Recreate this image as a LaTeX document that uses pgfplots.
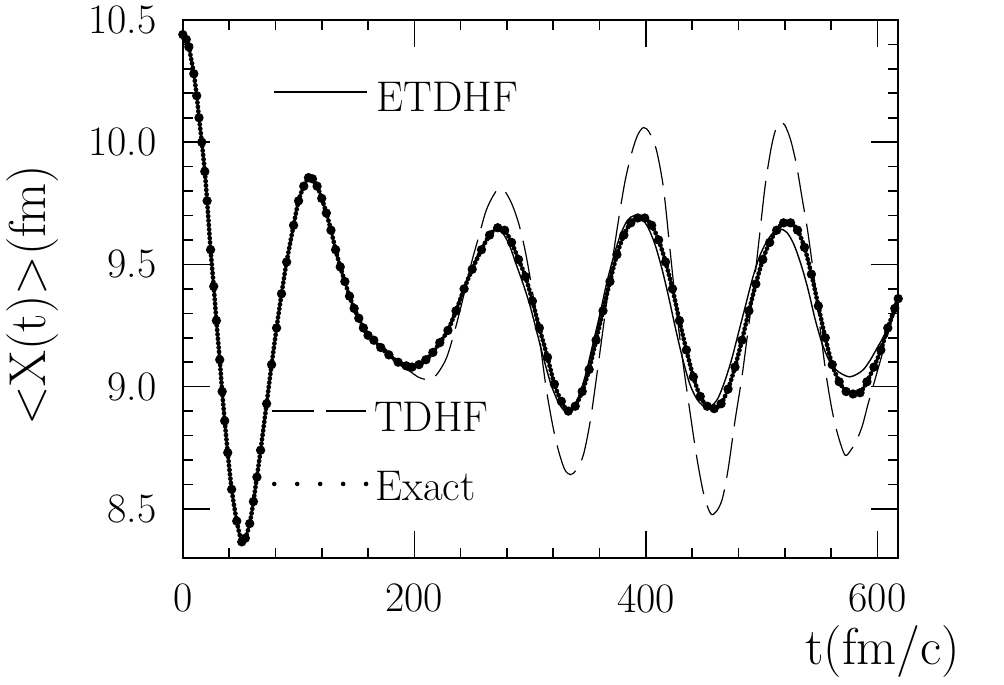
\documentclass[border=0pt]{standalone}
\usepackage{pgfplots}
\usepackage{pgfplotstable}
\pgfplotsset{compat=1.18}
\pgfplotstableread{
t v
0 10.44
3 10.42
5.2 10.39
9.5 10.28
12 10.19
14 10.10
16.4 10.00
19 9.88
21 9.76
24 9.56
26.7 9.41
29 9.27
31.9 9.11
34 8.98
36.2 8.86
38.8 8.73
42.2 8.58
46.6 8.45
50.9 8.365
54 8.38
57.8 8.44
61 8.53
64 8.63
67.2 8.74
72.4 8.93
76.7 9.09
81 9.24
85.3 9.38
89.7 9.51
95.7 9.66
100 9.76
104.5 9.82
108.6 9.855
112 9.85
116 9.82
120 9.77
124 9.71
128 9.64
132 9.56
136 9.49
140 9.43
144 9.37
148 9.32
152 9.28
156 9.24
160 9.21
165 9.19
171 9.16
178 9.13
186 9.10
193 9.085
198 9.08
204 9.09
210 9.11
216 9.14
222 9.18
229 9.23
236 9.31
243 9.40
250 9.48
258 9.56
265 9.62
272 9.65
278 9.64
284 9.59
290 9.52
296 9.45
302 9.35
308 9.24
315 9.12
321 9.01
327 8.94
333 8.90
339 8.92
345 8.98
351 9.07
357 9.19
363 9.31
369 9.43
375 9.54
381 9.62
387 9.67
393 9.69
399 9.69
405 9.66
411 9.60
417 9.51
423 9.40
429 9.27
435 9.15
441 9.04
447 8.96
453 8.92
459 8.91
465 8.93
471 8.99
477 9.08
483 9.19
489 9.31
495 9.42
501 9.52
507 9.59
513 9.64
519 9.67
525 9.67
531 9.64
537 9.57
543 9.46
549 9.33
555 9.20
561 9.09
567 9.02
573 8.98
579 8.97
585 8.975
591 9.02
597 9.08
603 9.15
609 9.24
615 9.32
618 9.36
}\exacttab
\pgfplotstableread{
t v
0 10.44
3 10.42
5.2 10.39
9.5 10.28
12 10.19
14 10.10
16.4 10.00
19 9.88
21 9.76
24 9.56
26.7 9.41
29 9.27
31.9 9.11
34 8.98
36.2 8.86
38.8 8.73
42.2 8.58
46.6 8.45
50.9 8.365
54 8.38
57.8 8.44
61 8.53
64 8.63
67.2 8.74
72.4 8.93
76.7 9.09
81 9.24
85.3 9.38
89.7 9.51
95.7 9.66
100 9.76
104.5 9.82
108.6 9.855
112 9.85
116 9.82
120 9.77
124 9.71
128 9.64
132 9.56
136 9.49
140 9.43
144 9.37
148 9.32
152 9.28
156 9.25
160 9.22
165 9.18
171 9.17
178 9.14
186 9.10
193 9.08
198 9.08
204 9.09
210 9.11
216 9.14
222 9.18
229 9.24
236 9.32
243 9.41
250 9.49
258 9.57
265 9.62
270 9.64
276 9.63
282 9.58
288 9.50
294 9.42
300 9.33
306 9.22
312 9.11
318 9.01
324 8.94
330 8.90
336 8.91
342 8.96
348 9.05
354 9.17
360 9.29
366 9.42
372 9.53
378 9.62
384 9.68
390 9.70
396 9.69
402 9.65
408 9.58
414 9.48
420 9.36
426 9.23
432 9.11
438 9.01
444 8.95
450 8.92
456 8.92
462 8.95
468 9.02
474 9.11
480 9.22
486 9.33
492 9.44
498 9.53
504 9.59
510 9.63
516 9.645
522 9.63
528 9.58
534 9.50
540 9.40
546 9.28
552 9.18
558 9.11
564 9.07
570 9.05
576 9.04
582 9.05
588 9.07
594 9.11
600 9.16
606 9.21
612 9.27
618 9.33
}\etdhftab
\pgfplotstableread{
t v
0 10.44
3 10.42
5.2 10.39
9.5 10.28
12 10.19
14 10.10
16.4 10.00
19 9.88
21 9.76
24 9.56
26.7 9.41
29 9.27
31.9 9.11
34 8.98
36.2 8.86
38.8 8.73
42.2 8.58
46.6 8.45
50.9 8.365
54 8.38
57.8 8.44
61 8.53
64 8.63
67.2 8.74
72.4 8.93
76.7 9.09
81 9.24
85.3 9.38
89.7 9.51
95.7 9.66
100 9.76
104.5 9.82
108.6 9.855
112 9.85
116 9.82
120 9.77
124 9.71
128 9.64
132 9.56
136 9.49
140 9.43
144 9.37
148 9.32
152 9.28
156 9.24
162 9.20
168 9.17
175 9.14
182 9.11
190 9.08
197 9.06
203 9.04
209 9.03
215 9.03
221 9.06
228 9.12
235 9.23
242 9.36
249 9.50
256 9.62
262 9.72
268 9.78
273 9.81
278 9.80
284 9.75
290 9.67
296 9.55
302 9.39
308 9.20
314 8.99
320 8.83
325 8.73
330 8.66
335 8.64
340 8.66
346 8.72
352 8.86
358 9.06
364 9.27
370 9.48
376 9.67
382 9.84
388 9.96
393 10.03
398 10.06
403 10.04
409 9.97
415 9.82
420 9.60
426 9.33
432 9.10
438 8.90
444 8.71
450 8.56
456 8.48
461 8.49
466 8.54
471 8.66
477 8.86
483 9.04
488 9.22
493 9.40
498 9.61
503 9.82
508 9.97
512 10.05
516 10.08
520 10.07
525 10.01
530 9.91
535 9.77
540 9.63
546 9.42
551 9.22
556 9.04
561 8.90
566 8.80
572 8.72
577 8.74
582 8.78
587 8.84
592 8.93
598 9.03
604 9.13
610 9.23
618 9.36
}\tdhftab
\begin{document}
\begin{tikzpicture}
\begin{axis}[
  scale only axis,
  width=358.5pt, height=269.5pt,
  xmin=0, xmax=618, ymin=8.3, ymax=10.5,
  xtick={0,200,400,600},
  xticklabels={0,200,400,600},
  ytick={8.5,9.0,9.5,10.0,10.5},
  yticklabels={8.5,9.0,9.5,10.0,10.5},
  minor x tick num=4, minor y tick num=4,
  tick align=inside,
  major tick length=13.5pt, minor tick length=5pt,
  every tick/.style={black, line width=0.8pt},
  axis line style={line width=1pt},
  ticklabel style={font=\fontsize{21}{25}\selectfont},
  xticklabel style={inner sep=0pt, anchor=north, yshift=-13pt},
  yticklabel style={inner sep=0pt, anchor=east, xshift=-13pt},
  xlabel={t(fm/c)}, ylabel={<X(t)>(fm)},
  label style={font=\fontsize{26}{30}\selectfont},
  xlabel style={at={(axis description cs:0.978,-0.175)}, anchor=center},
  ylabel style={at={(axis description cs:-0.21,0.488)}, anchor=center},
]
\addplot[black, smooth, line width=2.4pt, line cap=round, dash pattern=on 0pt off 2.2pt,
  mark=*, mark size=1.05pt, mark options={solid}] table[x=t, y=v] {\exacttab};
\addplot[black, smooth, line width=0.7pt] table[x=t, y=v] {\etdhftab};
\addplot[black, smooth, line width=0.6pt, dash pattern=on 20pt off 6pt] table[x=t, y=v] {\tdhftab};
% legend samples
\draw[black, line width=0.7pt] (axis cs:79,10.206) -- (axis cs:159,10.206);
\node[anchor=base west, inner sep=0pt, font=\fontsize{21.5}{25}\selectfont] at (axis cs:167,10.125) {ETDHF};
\draw[black, line width=0.6pt, dash pattern=on 21pt off 6pt] (axis cs:77,8.90) -- (axis cs:158,8.90);
\node[anchor=base west, inner sep=0pt, font=\fontsize{21.5}{25}\selectfont] at (axis cs:165,8.818) {TDHF};
\draw[black, line width=2.3pt, line cap=round, dash pattern=on 0pt off 11.5pt] (axis cs:79,8.602) -- (axis cs:160,8.602);
\node[anchor=base west, inner sep=0pt, font=\fontsize{21.5}{25}\selectfont] at (axis cs:166,8.533) {Exact};
\end{axis}
\path (-90.5pt,-60.5pt) rectangle (411.5pt,279.5pt);
\end{tikzpicture}
\end{document}
